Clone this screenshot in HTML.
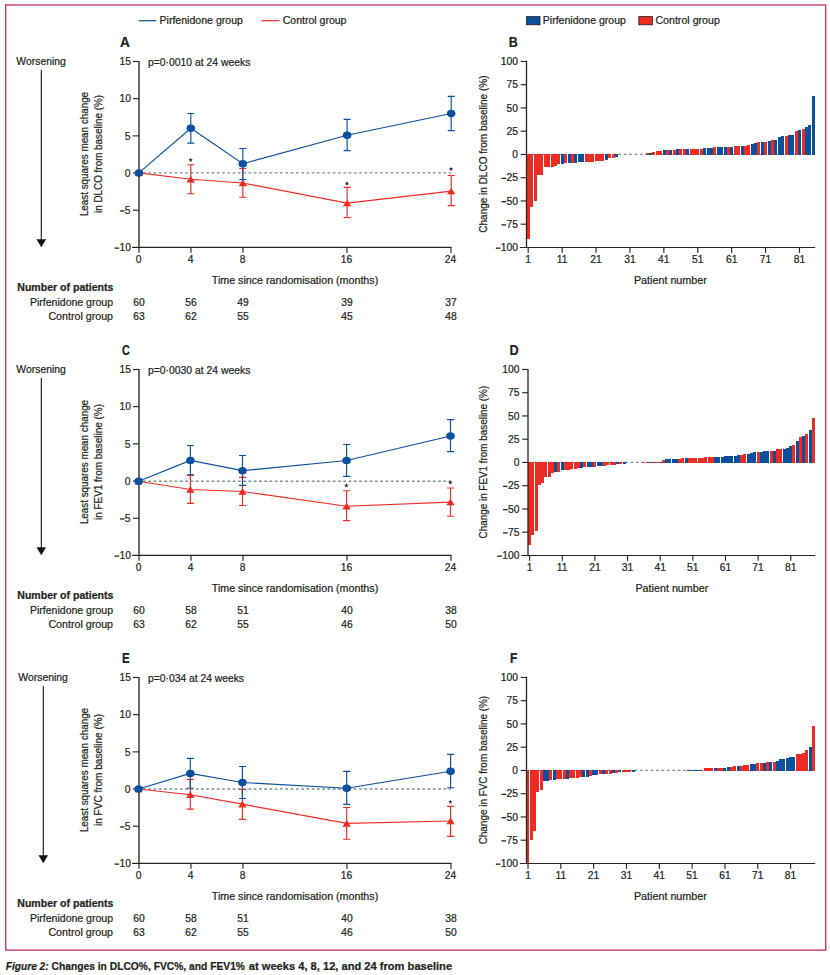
<!DOCTYPE html>
<html lang="en"><head><meta charset="utf-8"><title>Figure 2</title>
<style>html,body{margin:0;padding:0;background:#fff}body{width:830px;height:975px;overflow:hidden}svg{display:block;font-family:"Liberation Sans",sans-serif;fill:#231f20}text{stroke:#231f20;stroke-width:0.22px;paint-order:stroke fill}</style>
</head><body>
<svg width="830" height="975" viewBox="0 0 830 975">
<rect x="0" y="0" width="830" height="975" fill="#fff"/>
<rect x="5.7" y="4.95" width="820.0" height="945.15" fill="none" stroke="#c63d67" stroke-width="1.4"/>
<line x1="138.7" y1="20.7" x2="156.1" y2="20.7" stroke="#0b509e" stroke-width="1.2"/>
<text x="159.5" y="23.9" font-size="10.4" textLength="83.4" lengthAdjust="spacingAndGlyphs">Pirfenidone group</text>
<line x1="261.6" y1="20.7" x2="279.6" y2="20.7" stroke="#ed2c24" stroke-width="1.2"/>
<text x="282.7" y="23.9" font-size="10.4" textLength="63.8" lengthAdjust="spacingAndGlyphs">Control group</text>
<rect x="526.4" y="16.6" width="13.6" height="8.2" fill="#0b509e" stroke="#231f20" stroke-width="0.8"/>
<text x="542.8" y="23.9" font-size="10.4" textLength="83.1" lengthAdjust="spacingAndGlyphs">Pirfenidone group</text>
<rect x="638.8" y="16.6" width="13.6" height="8.2" fill="#ed2c24" stroke="#231f20" stroke-width="0.8"/>
<text x="655.4" y="23.9" font-size="10.4" textLength="64.5" lengthAdjust="spacingAndGlyphs">Control group</text>
<g id="panel-A">
<text transform="translate(119.91 46.9) scale(0.946 1)" font-size="14.5" font-weight="bold">A</text>
<text x="16.3" y="64.8" font-size="10.3" textLength="49.6" lengthAdjust="spacingAndGlyphs">Worsening</text>
<line x1="41.3" y1="70.0" x2="41.3" y2="240.0" stroke="#111" stroke-width="1.1"/>
<path d="M36.5 239.3H46.1L41.3 247.2Z" fill="#111"/>
<text x="87.7" y="154.0" font-size="10.3" text-anchor="middle" textLength="124.2" lengthAdjust="spacingAndGlyphs" transform="rotate(-90 87.7 154.0)">Least squares mean change</text>
<text x="102.1" y="154.0" font-size="10.3" text-anchor="middle" textLength="118" lengthAdjust="spacingAndGlyphs" transform="rotate(-90 102.1 154.0)">in DLCO from baseline (%)</text>
<text x="148.0" y="65.7" font-size="10.3" textLength="102.4" lengthAdjust="spacingAndGlyphs">p=0·0010 at 24 weeks</text>
<g stroke="#262324" stroke-width="1.15" fill="none">
<path d="M139.0 60.93V247.98" stroke-width="1.35"/>
<path d="M132.1 247.43H451.55"/>
<line x1="133.0" y1="61.48" x2="139.0" y2="61.48"/>
<line x1="133.0" y1="98.67" x2="139.0" y2="98.67"/>
<line x1="133.0" y1="135.86" x2="139.0" y2="135.86"/>
<line x1="133.0" y1="173.05" x2="139.0" y2="173.05"/>
<line x1="133.0" y1="210.24" x2="139.0" y2="210.24"/>
<line x1="139.0" y1="247.43" x2="139.0" y2="252.83"/>
<line x1="191.0" y1="247.43" x2="191.0" y2="252.83"/>
<line x1="243.0" y1="247.43" x2="243.0" y2="252.83"/>
<line x1="347.0" y1="247.43" x2="347.0" y2="252.83"/>
<line x1="451.0" y1="247.43" x2="451.0" y2="252.83"/>
</g>
<text x="131.0" y="65.2" font-size="10.3" text-anchor="end">15</text>
<text x="131.0" y="102.4" font-size="10.3" text-anchor="end">10</text>
<text x="130.6" y="139.6" font-size="10.3" text-anchor="end">5</text>
<text x="130.6" y="176.8" font-size="10.3" text-anchor="end">0</text>
<text x="130.6" y="213.9" font-size="10.3" text-anchor="end">5</text>
<line x1="119.87" y1="210.94" x2="124.47" y2="210.94" stroke="#231f20" stroke-width="1.3"/>
<text x="131.0" y="251.1" font-size="10.3" text-anchor="end">10</text>
<line x1="114.54" y1="248.13" x2="119.14" y2="248.13" stroke="#231f20" stroke-width="1.3"/>
<text x="138.5" y="263.0" font-size="10.3" text-anchor="middle">0</text>
<text x="190.5" y="263.0" font-size="10.3" text-anchor="middle">4</text>
<text x="242.5" y="263.0" font-size="10.3" text-anchor="middle">8</text>
<text x="346.5" y="263.0" font-size="10.3" text-anchor="middle">16</text>
<text x="450.5" y="263.0" font-size="10.3" text-anchor="middle">24</text>
<text x="295.0" y="284.0" font-size="10.3" text-anchor="middle" textLength="166.4" lengthAdjust="spacingAndGlyphs">Time since randomisation (months)</text>
<line x1="139.0" y1="172.90" x2="451.0" y2="172.90" stroke="#7b8d94" stroke-width="1.4" stroke-dasharray="2.7 2.57" stroke-dashoffset="1.2"/>
<g stroke="#ed2c24" stroke-width="1.15" fill="none">
<polyline points="138.9,172.90 190.8,179.22 242.8,183.00 347.1,203.14 451.2,191.10"/>
<path d="M190.8 164.73V193.70M187.3 164.73h7M187.3 193.70h7"/>
<path d="M242.8 168.52V197.27M239.3 168.52h7M239.3 197.27h7"/>
<path d="M347.1 187.39V217.48M343.6 187.39h7M343.6 217.48h7"/>
<path d="M451.2 175.50V205.59M447.7 175.50h7M447.7 205.59h7"/>
</g>
<path d="M138.9 169.50L143.1 176.10H134.7Z" fill="#ed2c24"/>
<path d="M190.8 175.82L195.0 182.42H186.6Z" fill="#ed2c24"/>
<path d="M242.8 179.60L247.0 186.20H238.6Z" fill="#ed2c24"/>
<path d="M347.1 199.74L351.3 206.34H342.9Z" fill="#ed2c24"/>
<path d="M451.2 187.70L455.4 194.30H447.0Z" fill="#ed2c24"/>
<g stroke="#0b509e" stroke-width="1.15" fill="none">
<polyline points="138.9,172.90 190.8,128.32 242.8,163.69 347.1,135.30 451.2,113.46"/>
<path d="M190.8 113.46V143.18M187.3 113.46h7M187.3 143.18h7"/>
<path d="M242.8 148.53V179.51M239.3 148.53h7M239.3 179.51h7"/>
<path d="M347.1 119.40V150.61M343.6 119.40h7M343.6 150.61h7"/>
<path d="M451.2 96.37V130.55M447.7 96.37h7M447.7 130.55h7"/>
</g>
<ellipse cx="138.9" cy="172.90" rx="4.25" ry="3.75" fill="#0b509e"/>
<ellipse cx="190.8" cy="128.32" rx="4.25" ry="3.75" fill="#0b509e"/>
<ellipse cx="242.8" cy="163.69" rx="4.25" ry="3.75" fill="#0b509e"/>
<ellipse cx="347.1" cy="135.30" rx="4.25" ry="3.75" fill="#0b509e"/>
<ellipse cx="451.2" cy="113.46" rx="4.25" ry="3.75" fill="#0b509e"/>
<polygon points="190.60,157.65 191.16,159.23 192.83,159.27 191.50,160.29 191.98,161.90 190.60,160.95 189.22,161.90 189.70,160.29 188.37,159.27 190.04,159.23" fill="#231f20"/>
<polygon points="346.90,181.15 347.46,182.73 349.13,182.77 347.80,183.79 348.28,185.40 346.90,184.45 345.52,185.40 346.00,183.79 344.67,182.77 346.34,182.73" fill="#231f20"/>
<polygon points="451.00,166.75 451.56,168.33 453.23,168.37 451.90,169.39 452.38,171.00 451.00,170.05 449.62,171.00 450.10,169.39 448.77,168.37 450.44,168.33" fill="#231f20"/>
<text x="17.3" y="291.0" font-size="10.4" font-weight="bold" textLength="96.1" lengthAdjust="spacingAndGlyphs">Number of patients</text>
<text x="113.0" y="305.8" font-size="10.3" text-anchor="end" textLength="83.0" lengthAdjust="spacingAndGlyphs">Pirfenidone group</text>
<text x="113.0" y="320.3" font-size="10.3" text-anchor="end" textLength="64.6" lengthAdjust="spacingAndGlyphs">Control group</text>
<text x="139.0" y="305.9" font-size="10.3" text-anchor="middle">60</text>
<text x="139.0" y="320.4" font-size="10.3" text-anchor="middle">63</text>
<text x="191.0" y="305.9" font-size="10.3" text-anchor="middle">56</text>
<text x="191.0" y="320.4" font-size="10.3" text-anchor="middle">62</text>
<text x="243.0" y="305.9" font-size="10.3" text-anchor="middle">49</text>
<text x="243.0" y="320.4" font-size="10.3" text-anchor="middle">55</text>
<text x="347.0" y="305.9" font-size="10.3" text-anchor="middle">39</text>
<text x="347.0" y="320.4" font-size="10.3" text-anchor="middle">45</text>
<text x="451.0" y="305.9" font-size="10.3" text-anchor="middle">37</text>
<text x="451.0" y="320.4" font-size="10.3" text-anchor="middle">48</text>
</g>
<g id="panel-B">
<text transform="translate(508.82 46.9) scale(0.859 1)" font-size="14.5" font-weight="bold">B</text>
<text x="486.9" y="154.1" font-size="10.3" text-anchor="middle" textLength="157.2" lengthAdjust="spacingAndGlyphs" transform="rotate(-90 486.9 154.1)">Change in DLCO from baseline (%)</text>
<line x1="526.5" y1="154.45" x2="815" y2="154.45" stroke="#7b8d94" stroke-width="1.2" stroke-dasharray="2.7 2.7"/>
<g shape-rendering="crispEdges">
<rect x="527" y="154" width="3" height="85" fill="#ed2c24"/>
<rect x="530" y="154" width="3" height="53" fill="#ed2c24"/>
<rect x="534" y="154" width="3" height="47" fill="#ed2c24"/>
<rect x="537" y="154" width="3" height="21" fill="#ed2c24"/>
<rect x="540" y="154" width="3" height="21" fill="#ed2c24"/>
<rect x="544" y="154" width="3" height="13" fill="#ed2c24"/>
<rect x="547" y="154" width="3" height="13" fill="#ed2c24"/>
<rect x="551" y="154" width="3" height="13" fill="#ed2c24"/>
<rect x="554" y="154" width="3" height="12" fill="#ed2c24"/>
<rect x="557" y="154" width="3" height="10" fill="#ed2c24"/>
<rect x="561" y="154" width="3" height="10" fill="#0b509e"/>
<rect x="564" y="154" width="3" height="9" fill="#ed2c24"/>
<rect x="568" y="154" width="3" height="9" fill="#0b509e"/>
<rect x="571" y="154" width="3" height="9" fill="#ed2c24"/>
<rect x="574" y="154" width="3" height="9" fill="#0b509e"/>
<rect x="578" y="154" width="3" height="8" fill="#0b509e"/>
<rect x="581" y="154" width="3" height="8" fill="#0b509e"/>
<rect x="585" y="154" width="3" height="8" fill="#ed2c24"/>
<rect x="588" y="154" width="3" height="8" fill="#ed2c24"/>
<rect x="591" y="154" width="3" height="8" fill="#ed2c24"/>
<rect x="595" y="154" width="3" height="7" fill="#ed2c24"/>
<rect x="598" y="154" width="3" height="7" fill="#ed2c24"/>
<rect x="601" y="154" width="3" height="7" fill="#ed2c24"/>
<rect x="605" y="154" width="3" height="6" fill="#0b509e"/>
<rect x="608" y="154" width="3" height="4" fill="#ed2c24"/>
<rect x="612" y="154" width="3" height="4" fill="#ed2c24"/>
<rect x="615" y="154" width="3" height="3" fill="#0b509e"/>
<rect x="646" y="153" width="3" height="2" fill="#ed2c24"/>
<rect x="649" y="153" width="3" height="2" fill="#0b509e"/>
<rect x="652" y="152" width="3" height="3" fill="#ed2c24"/>
<rect x="656" y="151" width="3" height="4" fill="#ed2c24"/>
<rect x="659" y="151" width="3" height="4" fill="#ed2c24"/>
<rect x="663" y="150" width="3" height="5" fill="#0b509e"/>
<rect x="666" y="150" width="3" height="5" fill="#ed2c24"/>
<rect x="669" y="150" width="3" height="5" fill="#0b509e"/>
<rect x="673" y="150" width="3" height="5" fill="#ed2c24"/>
<rect x="676" y="149" width="3" height="6" fill="#0b509e"/>
<rect x="679" y="149" width="3" height="6" fill="#ed2c24"/>
<rect x="683" y="149" width="3" height="6" fill="#ed2c24"/>
<rect x="686" y="149" width="3" height="6" fill="#0b509e"/>
<rect x="690" y="149" width="3" height="6" fill="#ed2c24"/>
<rect x="693" y="149" width="3" height="6" fill="#ed2c24"/>
<rect x="696" y="149" width="3" height="6" fill="#ed2c24"/>
<rect x="700" y="149" width="3" height="6" fill="#ed2c24"/>
<rect x="703" y="148" width="3" height="7" fill="#0b509e"/>
<rect x="707" y="148" width="3" height="7" fill="#0b509e"/>
<rect x="710" y="148" width="3" height="7" fill="#0b509e"/>
<rect x="713" y="147" width="3" height="8" fill="#ed2c24"/>
<rect x="717" y="147" width="3" height="8" fill="#0b509e"/>
<rect x="720" y="147" width="3" height="8" fill="#0b509e"/>
<rect x="724" y="147" width="3" height="8" fill="#0b509e"/>
<rect x="727" y="147" width="3" height="8" fill="#ed2c24"/>
<rect x="730" y="147" width="3" height="8" fill="#0b509e"/>
<rect x="734" y="146" width="3" height="9" fill="#ed2c24"/>
<rect x="737" y="146" width="3" height="9" fill="#ed2c24"/>
<rect x="741" y="146" width="3" height="9" fill="#0b509e"/>
<rect x="744" y="146" width="3" height="9" fill="#ed2c24"/>
<rect x="747" y="145" width="3" height="10" fill="#ed2c24"/>
<rect x="751" y="144" width="3" height="11" fill="#0b509e"/>
<rect x="754" y="143" width="3" height="12" fill="#0b509e"/>
<rect x="757" y="142" width="3" height="13" fill="#ed2c24"/>
<rect x="761" y="142" width="3" height="13" fill="#0b509e"/>
<rect x="764" y="142" width="3" height="13" fill="#ed2c24"/>
<rect x="768" y="141" width="3" height="14" fill="#0b509e"/>
<rect x="771" y="140" width="3" height="15" fill="#ed2c24"/>
<rect x="774" y="140" width="3" height="15" fill="#0b509e"/>
<rect x="778" y="137" width="3" height="18" fill="#0b509e"/>
<rect x="781" y="136" width="3" height="19" fill="#0b509e"/>
<rect x="785" y="136" width="3" height="19" fill="#ed2c24"/>
<rect x="788" y="135" width="3" height="20" fill="#0b509e"/>
<rect x="791" y="135" width="3" height="20" fill="#0b509e"/>
<rect x="795" y="131" width="3" height="24" fill="#ed2c24"/>
<rect x="798" y="130" width="3" height="25" fill="#0b509e"/>
<rect x="802" y="129" width="3" height="26" fill="#ed2c24"/>
<rect x="805" y="127" width="3" height="28" fill="#0b509e"/>
<rect x="808" y="125" width="3" height="30" fill="#0b509e"/>
<rect x="812" y="96" width="3" height="59" fill="#0b509e"/>
</g>
<g stroke="#262324" stroke-width="1.15" fill="none">
<path d="M526.5 60.90V248.00" stroke-width="1.3"/>
<path d="M519.9 247.45H815.2"/>
<line x1="520.7" y1="61.45" x2="526.5" y2="61.45"/>
<line x1="520.7" y1="84.70" x2="526.5" y2="84.70"/>
<line x1="520.7" y1="107.95" x2="526.5" y2="107.95"/>
<line x1="520.7" y1="131.20" x2="526.5" y2="131.20"/>
<line x1="520.7" y1="154.45" x2="526.5" y2="154.45"/>
<line x1="520.7" y1="177.70" x2="526.5" y2="177.70"/>
<line x1="520.7" y1="200.95" x2="526.5" y2="200.95"/>
<line x1="520.7" y1="224.20" x2="526.5" y2="224.20"/>
<line x1="528.20" y1="247.45" x2="528.20" y2="252.85"/>
<line x1="562.11" y1="247.45" x2="562.11" y2="252.85"/>
<line x1="596.02" y1="247.45" x2="596.02" y2="252.85"/>
<line x1="629.93" y1="247.45" x2="629.93" y2="252.85"/>
<line x1="663.84" y1="247.45" x2="663.84" y2="252.85"/>
<line x1="697.75" y1="247.45" x2="697.75" y2="252.85"/>
<line x1="731.66" y1="247.45" x2="731.66" y2="252.85"/>
<line x1="765.57" y1="247.45" x2="765.57" y2="252.85"/>
<line x1="799.48" y1="247.45" x2="799.48" y2="252.85"/>
</g>
<text x="518.0" y="65.1" font-size="10.3" text-anchor="end">100</text>
<text x="518.0" y="88.4" font-size="10.3" text-anchor="end">75</text>
<text x="518.0" y="111.6" font-size="10.3" text-anchor="end">50</text>
<text x="518.0" y="134.9" font-size="10.3" text-anchor="end">25</text>
<text x="518.0" y="158.1" font-size="10.3" text-anchor="end">0</text>
<text x="518.0" y="181.4" font-size="10.3" text-anchor="end">25</text>
<line x1="501.54" y1="178.40" x2="506.14" y2="178.40" stroke="#231f20" stroke-width="1.3"/>
<text x="518.0" y="204.6" font-size="10.3" text-anchor="end">50</text>
<line x1="501.54" y1="201.65" x2="506.14" y2="201.65" stroke="#231f20" stroke-width="1.3"/>
<text x="518.0" y="227.9" font-size="10.3" text-anchor="end">75</text>
<line x1="501.54" y1="224.90" x2="506.14" y2="224.90" stroke="#231f20" stroke-width="1.3"/>
<text x="518.0" y="251.1" font-size="10.3" text-anchor="end">100</text>
<line x1="495.82" y1="248.15" x2="500.42" y2="248.15" stroke="#231f20" stroke-width="1.3"/>
<text x="528.2" y="262.8" font-size="10.3" text-anchor="middle">1</text>
<text x="562.1" y="262.8" font-size="10.3" text-anchor="middle">11</text>
<text x="596.0" y="262.8" font-size="10.3" text-anchor="middle">21</text>
<text x="629.9" y="262.8" font-size="10.3" text-anchor="middle">31</text>
<text x="663.8" y="262.8" font-size="10.3" text-anchor="middle">41</text>
<text x="697.8" y="262.8" font-size="10.3" text-anchor="middle">51</text>
<text x="731.7" y="262.8" font-size="10.3" text-anchor="middle">61</text>
<text x="765.6" y="262.8" font-size="10.3" text-anchor="middle">71</text>
<text x="799.5" y="262.8" font-size="10.3" text-anchor="middle">81</text>
<text x="670.4" y="284.0" font-size="10.3" text-anchor="middle" textLength="73.0" lengthAdjust="spacingAndGlyphs">Patient number</text>
</g>
<g id="panel-C">
<text transform="translate(122.10 354.9) scale(0.749 1)" font-size="14.5" font-weight="bold">C</text>
<text x="16.3" y="372.8" font-size="10.3" textLength="49.6" lengthAdjust="spacingAndGlyphs">Worsening</text>
<line x1="41.3" y1="378.0" x2="41.3" y2="548.0" stroke="#111" stroke-width="1.1"/>
<path d="M36.5 547.3H46.1L41.3 555.2Z" fill="#111"/>
<text x="87.7" y="462.0" font-size="10.3" text-anchor="middle" textLength="124.2" lengthAdjust="spacingAndGlyphs" transform="rotate(-90 87.7 462.0)">Least squares mean change</text>
<text x="102.1" y="462.0" font-size="10.3" text-anchor="middle" textLength="116" lengthAdjust="spacingAndGlyphs" transform="rotate(-90 102.1 462.0)">in FEV1 from baseline (%)</text>
<text x="148.0" y="373.7" font-size="10.3" textLength="102.4" lengthAdjust="spacingAndGlyphs">p=0·0030 at 24 weeks</text>
<g stroke="#262324" stroke-width="1.15" fill="none">
<path d="M139.0 368.93V555.98" stroke-width="1.35"/>
<path d="M132.1 555.43H451.55"/>
<line x1="133.0" y1="369.48" x2="139.0" y2="369.48"/>
<line x1="133.0" y1="406.67" x2="139.0" y2="406.67"/>
<line x1="133.0" y1="443.86" x2="139.0" y2="443.86"/>
<line x1="133.0" y1="481.05" x2="139.0" y2="481.05"/>
<line x1="133.0" y1="518.24" x2="139.0" y2="518.24"/>
<line x1="139.0" y1="555.43" x2="139.0" y2="560.83"/>
<line x1="191.0" y1="555.43" x2="191.0" y2="560.83"/>
<line x1="243.0" y1="555.43" x2="243.0" y2="560.83"/>
<line x1="347.0" y1="555.43" x2="347.0" y2="560.83"/>
<line x1="451.0" y1="555.43" x2="451.0" y2="560.83"/>
</g>
<text x="131.0" y="373.2" font-size="10.3" text-anchor="end">15</text>
<text x="131.0" y="410.4" font-size="10.3" text-anchor="end">10</text>
<text x="130.6" y="447.6" font-size="10.3" text-anchor="end">5</text>
<text x="130.6" y="484.8" font-size="10.3" text-anchor="end">0</text>
<text x="130.6" y="521.9" font-size="10.3" text-anchor="end">5</text>
<line x1="119.87" y1="518.94" x2="124.47" y2="518.94" stroke="#231f20" stroke-width="1.3"/>
<text x="131.0" y="559.1" font-size="10.3" text-anchor="end">10</text>
<line x1="114.54" y1="556.13" x2="119.14" y2="556.13" stroke="#231f20" stroke-width="1.3"/>
<text x="138.5" y="571.0" font-size="10.3" text-anchor="middle">0</text>
<text x="190.5" y="571.0" font-size="10.3" text-anchor="middle">4</text>
<text x="242.5" y="571.0" font-size="10.3" text-anchor="middle">8</text>
<text x="346.5" y="571.0" font-size="10.3" text-anchor="middle">16</text>
<text x="450.5" y="571.0" font-size="10.3" text-anchor="middle">24</text>
<text x="295.0" y="592.0" font-size="10.3" text-anchor="middle" textLength="166.4" lengthAdjust="spacingAndGlyphs">Time since randomisation (months)</text>
<line x1="139.0" y1="481.30" x2="451.0" y2="481.30" stroke="#7b8d94" stroke-width="1.4" stroke-dasharray="2.7 2.57" stroke-dashoffset="1.2"/>
<g stroke="#ed2c24" stroke-width="1.15" fill="none">
<polyline points="138.6,481.30 190.4,489.47 242.5,491.55 346.6,506.26 450.5,502.10"/>
<path d="M190.4 475.36V503.44M186.9 475.36h7M186.9 503.44h7"/>
<path d="M242.5 477.44V505.45M239.0 477.44h7M239.0 505.45h7"/>
<path d="M346.6 490.74V520.68M343.1 490.74h7M343.1 520.68h7"/>
<path d="M450.5 487.99V516.22M447.0 487.99h7M447.0 516.22h7"/>
</g>
<path d="M138.6 477.90L142.8 484.50H134.4Z" fill="#ed2c24"/>
<path d="M190.4 486.07L194.6 492.67H186.2Z" fill="#ed2c24"/>
<path d="M242.5 488.15L246.7 494.75H238.3Z" fill="#ed2c24"/>
<path d="M346.6 502.86L350.8 509.46H342.4Z" fill="#ed2c24"/>
<path d="M450.5 498.70L454.7 505.30H446.3Z" fill="#ed2c24"/>
<g stroke="#0b509e" stroke-width="1.15" fill="none">
<polyline points="138.6,481.30 190.4,460.42 242.5,470.68 346.6,460.50 450.5,435.98"/>
<path d="M190.4 445.49V474.76M186.9 445.49h7M186.9 474.76h7"/>
<path d="M242.5 455.52V485.39M239.0 455.52h7M239.0 485.39h7"/>
<path d="M346.6 444.45V476.40M343.1 444.45h7M343.1 476.40h7"/>
<path d="M450.5 419.63V451.58M447.0 419.63h7M447.0 451.58h7"/>
</g>
<ellipse cx="138.6" cy="481.30" rx="4.25" ry="3.75" fill="#0b509e"/>
<ellipse cx="190.4" cy="460.42" rx="4.25" ry="3.75" fill="#0b509e"/>
<ellipse cx="242.5" cy="470.68" rx="4.25" ry="3.75" fill="#0b509e"/>
<ellipse cx="346.6" cy="460.50" rx="4.25" ry="3.75" fill="#0b509e"/>
<ellipse cx="450.5" cy="435.98" rx="4.25" ry="3.75" fill="#0b509e"/>
<polygon points="346.40,483.15 346.96,484.73 348.63,484.77 347.30,485.79 347.78,487.40 346.40,486.45 345.02,487.40 345.50,485.79 344.17,484.77 345.84,484.73" fill="#231f20"/>
<polygon points="450.30,480.25 450.86,481.83 452.53,481.87 451.20,482.89 451.68,484.50 450.30,483.55 448.92,484.50 449.40,482.89 448.07,481.87 449.74,481.83" fill="#231f20"/>
<text x="17.3" y="599.0" font-size="10.4" font-weight="bold" textLength="96.1" lengthAdjust="spacingAndGlyphs">Number of patients</text>
<text x="113.0" y="613.8" font-size="10.3" text-anchor="end" textLength="83.0" lengthAdjust="spacingAndGlyphs">Pirfenidone group</text>
<text x="113.0" y="628.3" font-size="10.3" text-anchor="end" textLength="64.6" lengthAdjust="spacingAndGlyphs">Control group</text>
<text x="139.0" y="613.9" font-size="10.3" text-anchor="middle">60</text>
<text x="139.0" y="628.4" font-size="10.3" text-anchor="middle">63</text>
<text x="191.0" y="613.9" font-size="10.3" text-anchor="middle">58</text>
<text x="191.0" y="628.4" font-size="10.3" text-anchor="middle">62</text>
<text x="243.0" y="613.9" font-size="10.3" text-anchor="middle">51</text>
<text x="243.0" y="628.4" font-size="10.3" text-anchor="middle">55</text>
<text x="347.0" y="613.9" font-size="10.3" text-anchor="middle">40</text>
<text x="347.0" y="628.4" font-size="10.3" text-anchor="middle">46</text>
<text x="451.0" y="613.9" font-size="10.3" text-anchor="middle">38</text>
<text x="451.0" y="628.4" font-size="10.3" text-anchor="middle">50</text>
</g>
<g id="panel-D">
<text transform="translate(509.50 354.9) scale(0.877 1)" font-size="14.5" font-weight="bold">D</text>
<text x="486.9" y="462.1" font-size="10.3" text-anchor="middle" textLength="152.6" lengthAdjust="spacingAndGlyphs" transform="rotate(-90 486.9 462.1)">Change in FEV1 from baseline (%)</text>
<line x1="528.0" y1="462.45" x2="815" y2="462.45" stroke="#7b8d94" stroke-width="1.2" stroke-dasharray="2.7 2.7"/>
<g shape-rendering="crispEdges">
<rect x="528" y="462" width="3" height="83" fill="#ed2c24"/>
<rect x="531" y="462" width="3" height="73" fill="#ed2c24"/>
<rect x="535" y="462" width="3" height="69" fill="#ed2c24"/>
<rect x="538" y="462" width="3" height="23" fill="#ed2c24"/>
<rect x="541" y="462" width="3" height="21" fill="#ed2c24"/>
<rect x="544" y="462" width="3" height="15" fill="#ed2c24"/>
<rect x="548" y="462" width="3" height="15" fill="#ed2c24"/>
<rect x="551" y="462" width="3" height="11" fill="#ed2c24"/>
<rect x="554" y="462" width="3" height="10" fill="#0b509e"/>
<rect x="557" y="462" width="3" height="10" fill="#ed2c24"/>
<rect x="561" y="462" width="3" height="8" fill="#0b509e"/>
<rect x="564" y="462" width="3" height="8" fill="#ed2c24"/>
<rect x="567" y="462" width="3" height="8" fill="#ed2c24"/>
<rect x="570" y="462" width="3" height="7" fill="#ed2c24"/>
<rect x="574" y="462" width="3" height="7" fill="#ed2c24"/>
<rect x="577" y="462" width="3" height="6" fill="#ed2c24"/>
<rect x="580" y="462" width="3" height="6" fill="#0b509e"/>
<rect x="583" y="462" width="3" height="5" fill="#ed2c24"/>
<rect x="587" y="462" width="3" height="5" fill="#0b509e"/>
<rect x="590" y="462" width="3" height="5" fill="#0b509e"/>
<rect x="593" y="462" width="3" height="5" fill="#ed2c24"/>
<rect x="597" y="462" width="3" height="4" fill="#0b509e"/>
<rect x="600" y="462" width="3" height="4" fill="#0b509e"/>
<rect x="603" y="462" width="3" height="4" fill="#ed2c24"/>
<rect x="606" y="462" width="3" height="3" fill="#ed2c24"/>
<rect x="610" y="462" width="3" height="3" fill="#ed2c24"/>
<rect x="613" y="462" width="3" height="3" fill="#ed2c24"/>
<rect x="616" y="462" width="3" height="2" fill="#0b509e"/>
<rect x="619" y="462" width="3" height="2" fill="#ed2c24"/>
<rect x="623" y="462" width="3" height="2" fill="#0b509e"/>
<rect x="642" y="462" width="3" height="1" fill="#ed2c24"/>
<rect x="646" y="462" width="3" height="1" fill="#ed2c24"/>
<rect x="649" y="462" width="3" height="1" fill="#0b509e"/>
<rect x="652" y="462" width="3" height="1" fill="#ed2c24"/>
<rect x="655" y="462" width="3" height="1" fill="#ed2c24"/>
<rect x="659" y="462" width="3" height="1" fill="#0b509e"/>
<rect x="662" y="460" width="3" height="3" fill="#ed2c24"/>
<rect x="665" y="459" width="3" height="4" fill="#0b509e"/>
<rect x="668" y="459" width="3" height="4" fill="#0b509e"/>
<rect x="672" y="459" width="3" height="4" fill="#0b509e"/>
<rect x="675" y="459" width="3" height="4" fill="#0b509e"/>
<rect x="678" y="459" width="3" height="4" fill="#ed2c24"/>
<rect x="681" y="458" width="3" height="5" fill="#ed2c24"/>
<rect x="685" y="458" width="3" height="5" fill="#0b509e"/>
<rect x="688" y="458" width="3" height="5" fill="#ed2c24"/>
<rect x="691" y="458" width="3" height="5" fill="#ed2c24"/>
<rect x="694" y="458" width="3" height="5" fill="#ed2c24"/>
<rect x="698" y="458" width="3" height="5" fill="#ed2c24"/>
<rect x="701" y="458" width="3" height="5" fill="#ed2c24"/>
<rect x="704" y="457" width="3" height="6" fill="#ed2c24"/>
<rect x="708" y="457" width="3" height="6" fill="#ed2c24"/>
<rect x="711" y="457" width="3" height="6" fill="#ed2c24"/>
<rect x="714" y="457" width="3" height="6" fill="#0b509e"/>
<rect x="717" y="457" width="3" height="6" fill="#0b509e"/>
<rect x="721" y="457" width="3" height="6" fill="#0b509e"/>
<rect x="724" y="456" width="3" height="7" fill="#0b509e"/>
<rect x="727" y="456" width="3" height="7" fill="#0b509e"/>
<rect x="730" y="456" width="3" height="7" fill="#0b509e"/>
<rect x="734" y="456" width="3" height="7" fill="#0b509e"/>
<rect x="737" y="455" width="3" height="8" fill="#0b509e"/>
<rect x="740" y="455" width="3" height="8" fill="#ed2c24"/>
<rect x="743" y="454" width="3" height="9" fill="#ed2c24"/>
<rect x="747" y="454" width="3" height="9" fill="#0b509e"/>
<rect x="750" y="453" width="3" height="10" fill="#0b509e"/>
<rect x="753" y="452" width="3" height="11" fill="#0b509e"/>
<rect x="757" y="452" width="3" height="11" fill="#ed2c24"/>
<rect x="760" y="452" width="3" height="11" fill="#0b509e"/>
<rect x="763" y="451" width="3" height="12" fill="#0b509e"/>
<rect x="766" y="451" width="3" height="12" fill="#0b509e"/>
<rect x="770" y="451" width="3" height="12" fill="#ed2c24"/>
<rect x="773" y="451" width="3" height="12" fill="#0b509e"/>
<rect x="776" y="449" width="3" height="14" fill="#ed2c24"/>
<rect x="779" y="449" width="3" height="14" fill="#ed2c24"/>
<rect x="783" y="449" width="3" height="14" fill="#0b509e"/>
<rect x="786" y="448" width="3" height="15" fill="#0b509e"/>
<rect x="789" y="446" width="3" height="17" fill="#0b509e"/>
<rect x="792" y="445" width="3" height="18" fill="#ed2c24"/>
<rect x="796" y="441" width="3" height="22" fill="#0b509e"/>
<rect x="799" y="437" width="3" height="26" fill="#ed2c24"/>
<rect x="802" y="436" width="3" height="27" fill="#0b509e"/>
<rect x="805" y="434" width="3" height="29" fill="#ed2c24"/>
<rect x="809" y="430" width="3" height="33" fill="#0b509e"/>
<rect x="812" y="418" width="3" height="45" fill="#ed2c24"/>
</g>
<g stroke="#262324" stroke-width="1.15" fill="none">
<path d="M528.0 368.90V556.00" stroke-width="1.3"/>
<path d="M521.4 555.45H815.2"/>
<line x1="522.2" y1="369.45" x2="528.0" y2="369.45"/>
<line x1="522.2" y1="392.70" x2="528.0" y2="392.70"/>
<line x1="522.2" y1="415.95" x2="528.0" y2="415.95"/>
<line x1="522.2" y1="439.20" x2="528.0" y2="439.20"/>
<line x1="522.2" y1="462.45" x2="528.0" y2="462.45"/>
<line x1="522.2" y1="485.70" x2="528.0" y2="485.70"/>
<line x1="522.2" y1="508.95" x2="528.0" y2="508.95"/>
<line x1="522.2" y1="532.20" x2="528.0" y2="532.20"/>
<line x1="529.60" y1="555.45" x2="529.60" y2="560.85"/>
<line x1="562.25" y1="555.45" x2="562.25" y2="560.85"/>
<line x1="594.89" y1="555.45" x2="594.89" y2="560.85"/>
<line x1="627.54" y1="555.45" x2="627.54" y2="560.85"/>
<line x1="660.18" y1="555.45" x2="660.18" y2="560.85"/>
<line x1="692.83" y1="555.45" x2="692.83" y2="560.85"/>
<line x1="725.47" y1="555.45" x2="725.47" y2="560.85"/>
<line x1="758.12" y1="555.45" x2="758.12" y2="560.85"/>
<line x1="790.76" y1="555.45" x2="790.76" y2="560.85"/>
</g>
<text x="519.5" y="373.1" font-size="10.3" text-anchor="end">100</text>
<text x="519.5" y="396.4" font-size="10.3" text-anchor="end">75</text>
<text x="519.5" y="419.6" font-size="10.3" text-anchor="end">50</text>
<text x="519.5" y="442.9" font-size="10.3" text-anchor="end">25</text>
<text x="519.5" y="466.1" font-size="10.3" text-anchor="end">0</text>
<text x="519.5" y="489.4" font-size="10.3" text-anchor="end">25</text>
<line x1="503.04" y1="486.40" x2="507.64" y2="486.40" stroke="#231f20" stroke-width="1.3"/>
<text x="519.5" y="512.6" font-size="10.3" text-anchor="end">50</text>
<line x1="503.04" y1="509.65" x2="507.64" y2="509.65" stroke="#231f20" stroke-width="1.3"/>
<text x="519.5" y="535.9" font-size="10.3" text-anchor="end">75</text>
<line x1="503.04" y1="532.90" x2="507.64" y2="532.90" stroke="#231f20" stroke-width="1.3"/>
<text x="519.5" y="559.2" font-size="10.3" text-anchor="end">100</text>
<line x1="497.32" y1="556.15" x2="501.92" y2="556.15" stroke="#231f20" stroke-width="1.3"/>
<text x="529.6" y="570.8" font-size="10.3" text-anchor="middle">1</text>
<text x="562.2" y="570.8" font-size="10.3" text-anchor="middle">11</text>
<text x="594.9" y="570.8" font-size="10.3" text-anchor="middle">21</text>
<text x="627.5" y="570.8" font-size="10.3" text-anchor="middle">31</text>
<text x="660.2" y="570.8" font-size="10.3" text-anchor="middle">41</text>
<text x="692.8" y="570.8" font-size="10.3" text-anchor="middle">51</text>
<text x="725.5" y="570.8" font-size="10.3" text-anchor="middle">61</text>
<text x="758.1" y="570.8" font-size="10.3" text-anchor="middle">71</text>
<text x="790.8" y="570.8" font-size="10.3" text-anchor="middle">81</text>
<text x="671.9" y="592.0" font-size="10.3" text-anchor="middle" textLength="73.0" lengthAdjust="spacingAndGlyphs">Patient number</text>
</g>
<g id="panel-E">
<text transform="translate(121.97 662.9) scale(0.799 1)" font-size="14.5" font-weight="bold">E</text>
<text x="18.3" y="680.8" font-size="10.3" textLength="49.6" lengthAdjust="spacingAndGlyphs">Worsening</text>
<line x1="43.3" y1="686.0" x2="43.3" y2="856.0" stroke="#111" stroke-width="1.1"/>
<path d="M38.5 855.3H48.1L43.3 863.2Z" fill="#111"/>
<text x="87.7" y="770.0" font-size="10.3" text-anchor="middle" textLength="124.2" lengthAdjust="spacingAndGlyphs" transform="rotate(-90 87.7 770.0)">Least squares mean change</text>
<text x="102.1" y="770.0" font-size="10.3" text-anchor="middle" textLength="112" lengthAdjust="spacingAndGlyphs" transform="rotate(-90 102.1 770.0)">in FVC from baseline (%)</text>
<text x="148.0" y="681.7" font-size="10.3" textLength="96.0" lengthAdjust="spacingAndGlyphs">p=0·034 at 24 weeks</text>
<g stroke="#262324" stroke-width="1.15" fill="none">
<path d="M139.0 676.93V863.98" stroke-width="1.35"/>
<path d="M132.1 863.43H451.55"/>
<line x1="133.0" y1="677.48" x2="139.0" y2="677.48"/>
<line x1="133.0" y1="714.67" x2="139.0" y2="714.67"/>
<line x1="133.0" y1="751.86" x2="139.0" y2="751.86"/>
<line x1="133.0" y1="789.05" x2="139.0" y2="789.05"/>
<line x1="133.0" y1="826.24" x2="139.0" y2="826.24"/>
<line x1="139.0" y1="863.43" x2="139.0" y2="868.83"/>
<line x1="191.0" y1="863.43" x2="191.0" y2="868.83"/>
<line x1="243.0" y1="863.43" x2="243.0" y2="868.83"/>
<line x1="347.0" y1="863.43" x2="347.0" y2="868.83"/>
<line x1="451.0" y1="863.43" x2="451.0" y2="868.83"/>
</g>
<text x="131.0" y="681.2" font-size="10.3" text-anchor="end">15</text>
<text x="131.0" y="718.4" font-size="10.3" text-anchor="end">10</text>
<text x="130.6" y="755.6" font-size="10.3" text-anchor="end">5</text>
<text x="130.6" y="792.8" font-size="10.3" text-anchor="end">0</text>
<text x="130.6" y="829.9" font-size="10.3" text-anchor="end">5</text>
<line x1="119.87" y1="826.94" x2="124.47" y2="826.94" stroke="#231f20" stroke-width="1.3"/>
<text x="131.0" y="867.1" font-size="10.3" text-anchor="end">10</text>
<line x1="114.54" y1="864.13" x2="119.14" y2="864.13" stroke="#231f20" stroke-width="1.3"/>
<text x="138.5" y="879.0" font-size="10.3" text-anchor="middle">0</text>
<text x="190.5" y="879.0" font-size="10.3" text-anchor="middle">4</text>
<text x="242.5" y="879.0" font-size="10.3" text-anchor="middle">8</text>
<text x="346.5" y="879.0" font-size="10.3" text-anchor="middle">16</text>
<text x="450.5" y="879.0" font-size="10.3" text-anchor="middle">24</text>
<text x="295.0" y="900.0" font-size="10.3" text-anchor="middle" textLength="166.4" lengthAdjust="spacingAndGlyphs">Time since randomisation (months)</text>
<line x1="139.0" y1="789.03" x2="451.0" y2="789.03" stroke="#7b8d94" stroke-width="1.4" stroke-dasharray="2.7 2.57" stroke-dashoffset="1.2"/>
<g stroke="#ed2c24" stroke-width="1.15" fill="none">
<polyline points="138.6,789.03 190.3,794.75 242.4,804.19 346.7,823.43 450.6,820.98"/>
<path d="M190.3 779.37V809.09M186.8 779.37h7M186.8 809.09h7"/>
<path d="M242.4 789.48V819.34M238.9 789.48h7M238.9 819.34h7"/>
<path d="M346.7 807.46V839.26M343.2 807.46h7M343.2 839.26h7"/>
<path d="M450.6 806.42V836.36M447.1 806.42h7M447.1 836.36h7"/>
</g>
<path d="M138.6 785.63L142.8 792.23H134.4Z" fill="#ed2c24"/>
<path d="M190.3 791.35L194.5 797.95H186.1Z" fill="#ed2c24"/>
<path d="M242.4 800.79L246.6 807.39H238.2Z" fill="#ed2c24"/>
<path d="M346.7 820.03L350.9 826.63H342.5Z" fill="#ed2c24"/>
<path d="M450.6 817.58L454.8 824.18H446.4Z" fill="#ed2c24"/>
<g stroke="#0b509e" stroke-width="1.15" fill="none">
<polyline points="138.6,789.03 190.3,773.43 242.4,782.49 346.7,788.21 450.6,771.20"/>
<path d="M190.3 758.34V788.29M186.8 758.34h7M186.8 788.29h7"/>
<path d="M242.4 766.52V798.47M238.9 766.52h7M238.9 798.47h7"/>
<path d="M346.7 771.42V804.41M343.2 771.42h7M343.2 804.41h7"/>
<path d="M450.6 754.41V787.77M447.1 754.41h7M447.1 787.77h7"/>
</g>
<ellipse cx="138.6" cy="789.03" rx="4.25" ry="3.75" fill="#0b509e"/>
<ellipse cx="190.3" cy="773.43" rx="4.25" ry="3.75" fill="#0b509e"/>
<ellipse cx="242.4" cy="782.49" rx="4.25" ry="3.75" fill="#0b509e"/>
<ellipse cx="346.7" cy="788.21" rx="4.25" ry="3.75" fill="#0b509e"/>
<ellipse cx="450.6" cy="771.20" rx="4.25" ry="3.75" fill="#0b509e"/>
<polygon points="450.35,799.55 450.91,801.13 452.58,801.17 451.25,802.19 451.73,803.80 450.35,802.85 448.97,803.80 449.45,802.19 448.12,801.17 449.79,801.13" fill="#231f20"/>
<text x="17.3" y="907.0" font-size="10.4" font-weight="bold" textLength="96.1" lengthAdjust="spacingAndGlyphs">Number of patients</text>
<text x="113.0" y="921.8" font-size="10.3" text-anchor="end" textLength="83.0" lengthAdjust="spacingAndGlyphs">Pirfenidone group</text>
<text x="113.0" y="936.3" font-size="10.3" text-anchor="end" textLength="64.6" lengthAdjust="spacingAndGlyphs">Control group</text>
<text x="139.0" y="921.9" font-size="10.3" text-anchor="middle">60</text>
<text x="139.0" y="936.4" font-size="10.3" text-anchor="middle">63</text>
<text x="191.0" y="921.9" font-size="10.3" text-anchor="middle">58</text>
<text x="191.0" y="936.4" font-size="10.3" text-anchor="middle">62</text>
<text x="243.0" y="921.9" font-size="10.3" text-anchor="middle">51</text>
<text x="243.0" y="936.4" font-size="10.3" text-anchor="middle">55</text>
<text x="347.0" y="921.9" font-size="10.3" text-anchor="middle">40</text>
<text x="347.0" y="936.4" font-size="10.3" text-anchor="middle">46</text>
<text x="451.0" y="921.9" font-size="10.3" text-anchor="middle">38</text>
<text x="451.0" y="936.4" font-size="10.3" text-anchor="middle">50</text>
</g>
<g id="panel-F">
<text transform="translate(509.95 662.9) scale(0.829 1)" font-size="14.5" font-weight="bold">F</text>
<text x="486.9" y="770.1" font-size="10.3" text-anchor="middle" textLength="148.5" lengthAdjust="spacingAndGlyphs" transform="rotate(-90 486.9 770.1)">Change in FVC from baseline (%)</text>
<line x1="526.5" y1="770.45" x2="815" y2="770.45" stroke="#7b8d94" stroke-width="1.2" stroke-dasharray="2.7 2.7"/>
<g shape-rendering="crispEdges">
<rect x="526" y="770" width="3" height="93" fill="#ed2c24"/>
<rect x="530" y="770" width="3" height="70" fill="#ed2c24"/>
<rect x="533" y="770" width="3" height="61" fill="#ed2c24"/>
<rect x="536" y="770" width="3" height="22" fill="#ed2c24"/>
<rect x="540" y="770" width="3" height="20" fill="#ed2c24"/>
<rect x="543" y="770" width="3" height="11" fill="#0b509e"/>
<rect x="546" y="770" width="3" height="11" fill="#0b509e"/>
<rect x="549" y="770" width="3" height="10" fill="#ed2c24"/>
<rect x="553" y="770" width="3" height="10" fill="#0b509e"/>
<rect x="556" y="770" width="3" height="9" fill="#ed2c24"/>
<rect x="559" y="770" width="3" height="9" fill="#ed2c24"/>
<rect x="563" y="770" width="3" height="9" fill="#ed2c24"/>
<rect x="566" y="770" width="3" height="9" fill="#0b509e"/>
<rect x="569" y="770" width="3" height="8" fill="#ed2c24"/>
<rect x="572" y="770" width="3" height="8" fill="#ed2c24"/>
<rect x="576" y="770" width="3" height="8" fill="#ed2c24"/>
<rect x="579" y="770" width="3" height="7" fill="#ed2c24"/>
<rect x="582" y="770" width="3" height="7" fill="#0b509e"/>
<rect x="586" y="770" width="3" height="7" fill="#0b509e"/>
<rect x="589" y="770" width="3" height="6" fill="#ed2c24"/>
<rect x="592" y="770" width="3" height="5" fill="#0b509e"/>
<rect x="595" y="770" width="3" height="5" fill="#0b509e"/>
<rect x="599" y="770" width="3" height="4" fill="#ed2c24"/>
<rect x="602" y="770" width="3" height="4" fill="#0b509e"/>
<rect x="605" y="770" width="3" height="4" fill="#ed2c24"/>
<rect x="609" y="770" width="3" height="4" fill="#ed2c24"/>
<rect x="612" y="770" width="3" height="3" fill="#0b509e"/>
<rect x="615" y="770" width="3" height="3" fill="#ed2c24"/>
<rect x="618" y="770" width="3" height="2" fill="#0b509e"/>
<rect x="622" y="770" width="3" height="2" fill="#ed2c24"/>
<rect x="625" y="770" width="3" height="2" fill="#ed2c24"/>
<rect x="628" y="770" width="3" height="2" fill="#ed2c24"/>
<rect x="632" y="770" width="3" height="2" fill="#0b509e"/>
<rect x="687" y="770" width="3" height="1" fill="#0b509e"/>
<rect x="691" y="770" width="3" height="1" fill="#0b509e"/>
<rect x="694" y="770" width="3" height="1" fill="#0b509e"/>
<rect x="697" y="770" width="3" height="1" fill="#0b509e"/>
<rect x="700" y="770" width="3" height="1" fill="#ed2c24"/>
<rect x="704" y="768" width="3" height="3" fill="#ed2c24"/>
<rect x="707" y="768" width="3" height="3" fill="#ed2c24"/>
<rect x="710" y="768" width="3" height="3" fill="#ed2c24"/>
<rect x="714" y="768" width="3" height="3" fill="#0b509e"/>
<rect x="717" y="768" width="3" height="3" fill="#ed2c24"/>
<rect x="720" y="768" width="3" height="3" fill="#ed2c24"/>
<rect x="723" y="768" width="3" height="3" fill="#0b509e"/>
<rect x="727" y="767" width="3" height="4" fill="#0b509e"/>
<rect x="730" y="767" width="3" height="4" fill="#ed2c24"/>
<rect x="733" y="766" width="3" height="5" fill="#ed2c24"/>
<rect x="737" y="766" width="3" height="5" fill="#0b509e"/>
<rect x="740" y="766" width="3" height="5" fill="#ed2c24"/>
<rect x="743" y="765" width="3" height="6" fill="#ed2c24"/>
<rect x="746" y="765" width="3" height="6" fill="#ed2c24"/>
<rect x="750" y="764" width="3" height="7" fill="#0b509e"/>
<rect x="753" y="764" width="3" height="7" fill="#0b509e"/>
<rect x="756" y="763" width="3" height="8" fill="#ed2c24"/>
<rect x="760" y="763" width="3" height="8" fill="#ed2c24"/>
<rect x="763" y="763" width="3" height="8" fill="#0b509e"/>
<rect x="766" y="762" width="3" height="9" fill="#ed2c24"/>
<rect x="769" y="762" width="3" height="9" fill="#0b509e"/>
<rect x="773" y="762" width="3" height="9" fill="#ed2c24"/>
<rect x="776" y="761" width="3" height="10" fill="#0b509e"/>
<rect x="779" y="759" width="3" height="12" fill="#0b509e"/>
<rect x="782" y="759" width="3" height="12" fill="#0b509e"/>
<rect x="786" y="758" width="3" height="13" fill="#0b509e"/>
<rect x="789" y="757" width="3" height="14" fill="#0b509e"/>
<rect x="792" y="757" width="3" height="14" fill="#0b509e"/>
<rect x="796" y="754" width="3" height="17" fill="#ed2c24"/>
<rect x="799" y="754" width="3" height="17" fill="#ed2c24"/>
<rect x="802" y="753" width="3" height="18" fill="#ed2c24"/>
<rect x="805" y="750" width="3" height="21" fill="#ed2c24"/>
<rect x="809" y="747" width="3" height="24" fill="#0b509e"/>
<rect x="812" y="726" width="3" height="45" fill="#ed2c24"/>
</g>
<g stroke="#262324" stroke-width="1.15" fill="none">
<path d="M526.5 676.90V864.00" stroke-width="1.3"/>
<path d="M519.9 863.45H815.2"/>
<line x1="520.7" y1="677.45" x2="526.5" y2="677.45"/>
<line x1="520.7" y1="700.70" x2="526.5" y2="700.70"/>
<line x1="520.7" y1="723.95" x2="526.5" y2="723.95"/>
<line x1="520.7" y1="747.20" x2="526.5" y2="747.20"/>
<line x1="520.7" y1="770.45" x2="526.5" y2="770.45"/>
<line x1="520.7" y1="793.70" x2="526.5" y2="793.70"/>
<line x1="520.7" y1="816.95" x2="526.5" y2="816.95"/>
<line x1="520.7" y1="840.20" x2="526.5" y2="840.20"/>
<line x1="528.00" y1="863.45" x2="528.00" y2="868.85"/>
<line x1="560.82" y1="863.45" x2="560.82" y2="868.85"/>
<line x1="593.65" y1="863.45" x2="593.65" y2="868.85"/>
<line x1="626.47" y1="863.45" x2="626.47" y2="868.85"/>
<line x1="659.30" y1="863.45" x2="659.30" y2="868.85"/>
<line x1="692.12" y1="863.45" x2="692.12" y2="868.85"/>
<line x1="724.94" y1="863.45" x2="724.94" y2="868.85"/>
<line x1="757.77" y1="863.45" x2="757.77" y2="868.85"/>
<line x1="790.59" y1="863.45" x2="790.59" y2="868.85"/>
</g>
<text x="518.0" y="681.2" font-size="10.3" text-anchor="end">100</text>
<text x="518.0" y="704.4" font-size="10.3" text-anchor="end">75</text>
<text x="518.0" y="727.7" font-size="10.3" text-anchor="end">50</text>
<text x="518.0" y="750.9" font-size="10.3" text-anchor="end">25</text>
<text x="518.0" y="774.2" font-size="10.3" text-anchor="end">0</text>
<text x="518.0" y="797.4" font-size="10.3" text-anchor="end">25</text>
<line x1="501.54" y1="794.40" x2="506.14" y2="794.40" stroke="#231f20" stroke-width="1.3"/>
<text x="518.0" y="820.7" font-size="10.3" text-anchor="end">50</text>
<line x1="501.54" y1="817.65" x2="506.14" y2="817.65" stroke="#231f20" stroke-width="1.3"/>
<text x="518.0" y="843.9" font-size="10.3" text-anchor="end">75</text>
<line x1="501.54" y1="840.90" x2="506.14" y2="840.90" stroke="#231f20" stroke-width="1.3"/>
<text x="518.0" y="867.2" font-size="10.3" text-anchor="end">100</text>
<line x1="495.82" y1="864.15" x2="500.42" y2="864.15" stroke="#231f20" stroke-width="1.3"/>
<text x="528.0" y="878.8" font-size="10.3" text-anchor="middle">1</text>
<text x="560.8" y="878.8" font-size="10.3" text-anchor="middle">11</text>
<text x="593.6" y="878.8" font-size="10.3" text-anchor="middle">21</text>
<text x="626.5" y="878.8" font-size="10.3" text-anchor="middle">31</text>
<text x="659.3" y="878.8" font-size="10.3" text-anchor="middle">41</text>
<text x="692.1" y="878.8" font-size="10.3" text-anchor="middle">51</text>
<text x="724.9" y="878.8" font-size="10.3" text-anchor="middle">61</text>
<text x="757.8" y="878.8" font-size="10.3" text-anchor="middle">71</text>
<text x="790.6" y="878.8" font-size="10.3" text-anchor="middle">81</text>
<text x="670.4" y="900.0" font-size="10.3" text-anchor="middle" textLength="73.0" lengthAdjust="spacingAndGlyphs">Patient number</text>
</g>
<g font-size="10.7" font-weight="bold">
<text x="5.8" y="969.7" textLength="42.8" lengthAdjust="spacingAndGlyphs" font-style="italic">Figure 2:</text>
<text x="51.5" y="969.7" textLength="193.5" lengthAdjust="spacingAndGlyphs">Changes in DLCO%, FVC%, and FEV1%</text>
<text x="248.8" y="969.7" textLength="203.3" lengthAdjust="spacingAndGlyphs">at weeks 4, 8, 12, and 24 from baseline</text>
</g>
</svg>
</body></html>
